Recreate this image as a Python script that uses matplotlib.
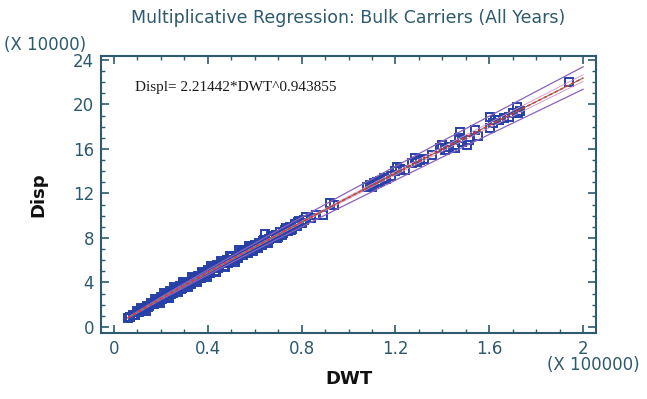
#!/usr/bin/env python3
"""Multiplicative regression plot: Bulk Carriers (All Years)."""
import matplotlib
matplotlib.use("Agg")
import matplotlib.pyplot as plt
from matplotlib.ticker import MultipleLocator

# --- data (DWT in 1e5, Disp in 1e4) ---
dwt_dense = [0.06, 0.07, 0.08, 0.09, 0.10, 0.11, 0.12, 0.13, 0.14, 0.15,
             0.16, 0.17, 0.18, 0.19, 0.20, 0.21, 0.22, 0.23, 0.24, 0.25,
             0.26, 0.27, 0.28, 0.29, 0.30, 0.31, 0.32, 0.33, 0.34, 0.35,
             0.36, 0.37, 0.38, 0.39, 0.40, 0.41, 0.42, 0.43, 0.44, 0.45,
             0.46, 0.47, 0.48, 0.49, 0.50, 0.51, 0.52, 0.53, 0.54, 0.55,
             0.56, 0.57, 0.58, 0.59, 0.60]
disp_dense = [0.82, 0.86, 1.10, 1.05, 1.47, 1.41, 1.63, 1.58, 1.91, 1.88,
              2.16, 2.09, 2.25, 2.28, 2.70, 2.59, 2.85, 2.70, 3.25, 3.05,
              3.40, 3.20, 3.68, 3.50, 3.95, 3.67, 4.06, 3.85, 4.40, 4.22,
              4.55, 4.35, 4.85, 4.62, 5.15, 4.85, 5.25, 5.00, 5.55, 5.35,
              5.75, 5.48, 6.05, 5.80, 6.30, 5.98, 6.40, 6.15, 6.70, 6.50,
              6.90, 6.60, 7.15, 6.95, 7.40]
dwt_fill = [0.105, 0.125, 0.145, 0.165, 0.185, 0.205, 0.225, 0.245, 0.265,
            0.285, 0.305, 0.325, 0.345, 0.365, 0.385, 0.405, 0.425, 0.445,
            0.465, 0.485, 0.505, 0.525, 0.545, 0.565, 0.585]
disp_fill = [1.30, 1.52, 1.82, 2.02, 2.45, 2.50, 2.95, 2.98, 3.42,
             3.45, 3.85, 3.92, 4.35, 4.38, 4.80, 4.85, 5.30, 5.30,
             5.78, 5.75, 6.25, 6.22, 6.68, 6.65, 7.12]
# outer edge of the dense band (above / below the fit)
dwt_edge = [0.115, 0.135, 0.175, 0.195, 0.215, 0.235, 0.255, 0.275, 0.295,
            0.315, 0.335, 0.355, 0.375, 0.395, 0.415, 0.435, 0.455, 0.475,
            0.495, 0.515, 0.535, 0.555, 0.575, 0.595]
disp_edge = [1.70, 1.45, 2.55, 2.15, 3.05, 2.60, 3.55, 3.10, 4.00,
             3.55, 4.50, 4.05, 4.95, 4.45, 5.45, 4.90, 5.95, 5.35,
             6.40, 5.85, 6.90, 6.95, 7.30, 6.85]
dwt_mid = [0.61, 0.62, 0.63, 0.64, 0.645, 0.65, 0.66, 0.67, 0.68, 0.69,
           0.70, 0.71, 0.72, 0.73, 0.74, 0.75, 0.76, 0.77, 0.78, 0.79,
           0.80, 0.81, 0.82, 0.84, 0.86, 0.89, 0.92, 0.94]
disp_mid = [7.20, 7.55, 7.35, 7.80, 8.35, 7.60, 7.90, 8.15, 7.95, 8.30,
            8.10, 8.55, 8.45, 8.70, 8.60, 8.95, 8.80, 9.25, 9.05, 9.55,
            9.30, 9.60, 9.90, 9.80, 10.05, 10.10, 11.10, 11.00]
dwt_mid2 = [0.615, 0.635, 0.655, 0.675, 0.695, 0.715, 0.735, 0.755, 0.785]
disp_mid2 = [7.05, 7.75, 7.50, 8.20, 8.00, 8.30, 8.85, 8.70, 9.40]
dwt_large = [1.08, 1.09, 1.10, 1.11, 1.12, 1.135, 1.15, 1.16, 1.18, 1.20,
             1.206, 1.22, 1.24, 1.27, 1.284, 1.291, 1.305, 1.32, 1.355,
             1.391, 1.398, 1.412, 1.43, 1.455, 1.455, 1.469, 1.476, 1.483,
             1.505, 1.512, 1.54, 1.55, 1.601, 1.604, 1.618, 1.625, 1.64,
             1.661, 1.682, 1.70, 1.718, 1.722, 1.73, 1.94]
disp_large = [12.55, 12.75, 12.60, 12.95, 13.05, 13.10, 13.35, 13.25, 13.60,
              14.05, 14.40, 14.20, 14.10, 14.70, 15.16, 14.86, 15.00, 15.10,
              15.46, 16.06, 16.36, 15.90, 16.20, 16.36, 16.06, 16.96, 17.55,
              16.66, 16.36, 16.80, 17.70, 17.20, 17.86, 18.85, 18.30, 18.60,
              18.60, 18.75, 18.90, 19.20, 19.80, 19.20, 19.45, 22.00]

# fitted line and limits, read at knots
fit_x = [0.06, 0.2, 0.4, 0.6, 0.8, 1.0, 1.2, 1.4, 1.6, 1.8, 2.0]
fit_y = [0.82, 2.55, 4.90, 7.18, 9.42, 11.63, 13.81, 15.98, 18.12, 20.25, 22.37]
pred_hi = [0.86, 2.67, 5.13, 7.51, 9.85, 12.16, 14.43, 16.70, 18.94, 21.17, 23.38]
pred_lo = [0.78, 2.43, 4.67, 6.85, 8.99, 11.10, 13.19, 15.26, 17.30, 19.33, 21.36]
conf_hi = [0.83, 2.58, 4.95, 7.24, 9.50, 11.74, 13.96, 16.16, 18.34, 20.51, 22.67]
conf_lo = [0.81, 2.52, 4.85, 7.12, 9.34, 11.52, 13.66, 15.80, 17.90, 19.99, 22.07]

equation = "Displ= 2.21442*DWT^0.943855"

TEAL = "#2d5a6c"

fig = plt.figure(figsize=(6.47, 3.99), dpi=100)
ax = fig.add_axes([0.1561, 0.1654, 0.7651, 0.6942])

xs = dwt_dense + dwt_fill + dwt_edge + dwt_mid + dwt_mid2 + dwt_large
ys = disp_dense + disp_fill + disp_edge + disp_mid + disp_mid2 + disp_large
ax.plot(xs, ys, "s", ms=5.5, mfc="none", mec="#2640a8", mew=1.4, zorder=2)

ax.plot(fit_x, pred_hi, color="#8a62c0", lw=0.9, zorder=3)
ax.plot(fit_x, pred_lo, color="#8a62c0", lw=0.9, zorder=3)
ax.plot(fit_x, conf_hi, color="#e090c0", lw=0.6, zorder=3)
ax.plot(fit_x, conf_lo, color="#e090c0", lw=0.6, zorder=3)
ax.plot(fit_x, fit_y, color="#6a7a50", lw=0.8, zorder=4)
ax.plot(fit_x, fit_y, color="#e8303a", lw=1.1, ls=(0, (2, 2)), zorder=5)

ax.set_xlim(-0.055, 2.055)
ax.set_ylim(-0.55, 24.35)
ax.xaxis.set_major_locator(MultipleLocator(0.4))
ax.xaxis.set_minor_locator(MultipleLocator(0.1))
ax.yaxis.set_major_locator(MultipleLocator(4))
ax.yaxis.set_minor_locator(MultipleLocator(1))
ax.set_xticks([0, 0.4, 0.8, 1.2, 1.6, 2.0])
ax.set_xticklabels(["0", "0.4", "0.8", "1.2", "1.6", "2"])

ax.tick_params(which="both", direction="in", top=True, right=True,
               color=TEAL, labelcolor=TEAL, labelsize=12)
ax.tick_params(which="major", length=6, width=1.2, pad=5)
ax.tick_params(which="minor", length=3, width=1.0)
for s in ax.spines.values():
    s.set_color(TEAL)
    s.set_linewidth(1.5)

ax.set_xlabel("DWT", fontsize=13, fontweight="bold", color="#111111", labelpad=9)
ax.set_ylabel("Disp", fontsize=13, fontweight="bold", color="#111111", labelpad=18)
ax.set_title("Multiplicative Regression: Bulk Carriers (All Years)",
             fontsize=12.5, color=TEAL, pad=24)

ax.text(0.068, 0.885, equation, transform=ax.transAxes, fontsize=11,
        family="Liberation Serif", color="#1a1a1a", va="center")
fig.text(0.006, 0.887, "(X 10000)", fontsize=12, color=TEAL, va="center")
fig.text(0.846, 0.085, "(X 100000)", fontsize=12, color=TEAL, va="center")

fig.savefig("out.png", dpi=100)
